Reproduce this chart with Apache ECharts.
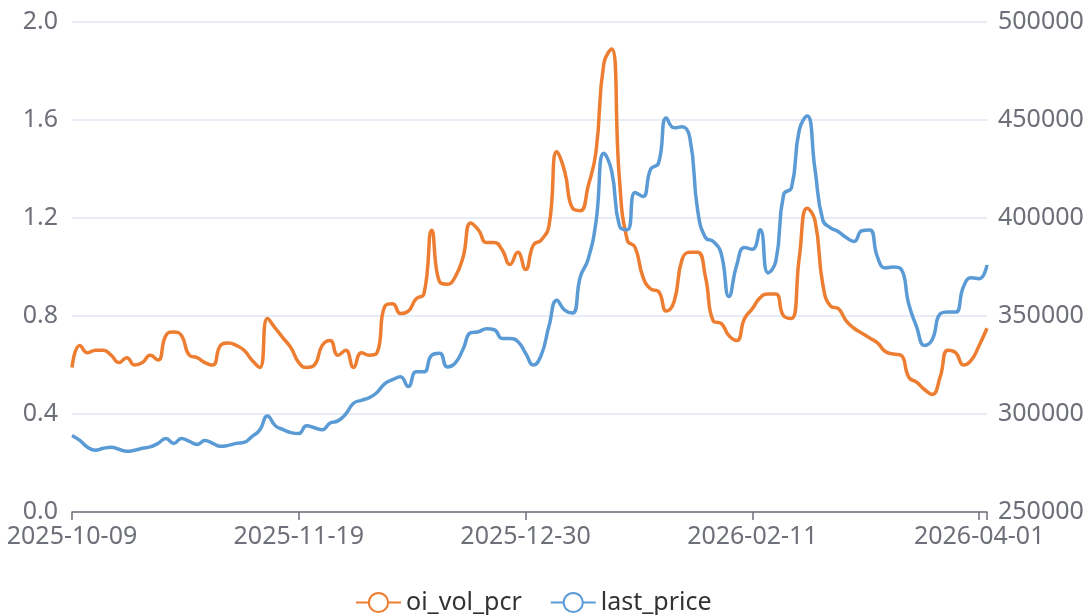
<!DOCTYPE html>
<html>
<head>
<meta charset="utf-8">
<script src="https://cdn.jsdelivr.net/npm/echarts@6/dist/echarts.min.js"></script>
<style>
html,body{margin:0;padding:0;background:#fff;}
#chart{width:1091px;height:615px;}
</style>
</head>
<body>
<div id="chart"></div>
<script>
const categories = [
'2025-10-09','2025-10-10','2025-10-13','2025-10-14','2025-10-15','2025-10-16','2025-10-17','2025-10-20','2025-10-21','2025-10-22',
'2025-10-23','2025-10-24','2025-10-27','2025-10-28','2025-10-29','2025-10-30','2025-10-31','2025-11-03','2025-11-04','2025-11-05',
'2025-11-06','2025-11-07','2025-11-10','2025-11-11','2025-11-12','2025-11-13','2025-11-14','2025-11-17','2025-11-18','2025-11-19',
'2025-11-20','2025-11-21','2025-11-24','2025-11-25','2025-11-26','2025-11-27','2025-11-28','2025-12-01','2025-12-02','2025-12-03',
'2025-12-04','2025-12-05','2025-12-08','2025-12-09','2025-12-10','2025-12-11','2025-12-12','2025-12-15','2025-12-16','2025-12-17',
'2025-12-18','2025-12-19','2025-12-22','2025-12-23','2025-12-24','2025-12-25','2025-12-26','2025-12-29','2025-12-30','2025-12-31',
'2026-01-05','2026-01-06','2026-01-07','2026-01-08','2026-01-09','2026-01-12','2026-01-13','2026-01-14','2026-01-15','2026-01-16',
'2026-01-19','2026-01-20','2026-01-21','2026-01-22','2026-01-23','2026-01-26','2026-01-27','2026-01-28','2026-01-29','2026-01-30',
'2026-02-02','2026-02-03','2026-02-04','2026-02-05','2026-02-06','2026-02-09','2026-02-10','2026-02-11','2026-02-12','2026-02-13',
'2026-02-24','2026-02-25','2026-02-26','2026-02-27','2026-03-02','2026-03-03','2026-03-04','2026-03-05','2026-03-06','2026-03-09',
'2026-03-10','2026-03-11','2026-03-12','2026-03-13','2026-03-16','2026-03-17','2026-03-18','2026-03-19','2026-03-20','2026-03-23',
'2026-03-24','2026-03-25','2026-03-26','2026-03-27','2026-03-30','2026-03-31','2026-04-01','2026-04-02'
];

const oiVolPcr = [
0.59,0.68,0.65,0.66,0.66,0.64,0.61,0.63,0.60,0.61,
0.64,0.62,0.72,0.735,0.72,0.64,0.63,0.61,0.60,0.68,
0.69,0.68,0.66,0.62,0.59,0.79,0.75,0.71,0.67,0.61,
0.59,0.60,0.68,0.70,0.64,0.66,0.59,0.65,0.64,0.65,
0.84,0.85,0.81,0.82,0.87,0.89,1.15,0.94,0.93,0.96,
1.04,1.18,1.15,1.10,1.10,1.07,1.01,1.06,0.99,1.09,
1.11,1.17,1.47,1.39,1.24,1.23,1.33,1.47,1.83,1.89,
1.36,1.11,1.08,0.96,0.91,0.90,0.82,0.86,1.03,1.06,
1.06,0.96,0.78,0.77,0.72,0.70,0.79,0.83,0.875,0.89,
0.89,0.80,0.79,1.04,1.24,1.19,0.93,0.84,0.83,0.78,
0.75,0.73,0.71,0.69,0.655,0.645,0.64,0.55,0.53,0.50,
0.48,0.55,0.66,0.65,0.60,0.62,0.68,0.75
];

const lastPrice = [
289000,286500,283000,281500,282500,283000,282000,281000,281500,282500,
283200,285000,287500,285000,287500,286000,284500,286500,285000,283500,
284000,285000,285500,288500,291800,299000,294000,292000,290500,290000,
294000,293000,292000,295400,296500,300000,305500,307000,308300,311000,
315500,317500,319000,314000,321500,321500,330000,331000,324000,326000,
333000,341500,342000,343500,343000,338500,338500,337000,331000,325000,
330000,345000,358000,353000,351500,370000,379000,398000,433000,424000,
396000,394000,413000,411000,425000,428000,451000,446000,446500,441000,
404000,390000,388000,382000,360000,376000,385000,384000,394000,372000,
378000,412000,415500,445000,452000,425000,399000,395000,393000,390000,
388000,393500,393900,380000,374500,375000,374000,356000,344500,335000,
338000,351000,352000,352000,365000,369500,369000,376000
];

const leftTicks = {min: 0, max: 2.0, interval: 0.4};
const rightTicks = {min: 250000, max: 500000, interval: 50000};

const labelColor = '#6E7079';
const fontFamily = '"Noto Sans", "Open Sans", sans-serif';
const fontSize = 25;

const chart = echarts.init(document.getElementById('chart'), null, {renderer: 'canvas'});
chart.setOption({
  animation: false,
  backgroundColor: '#ffffff',
  color: ['#ED7D31', '#5B9BD5'],
  textStyle: {fontFamily: fontFamily},
  grid: {left: 72, right: 104, top: 22, bottom: 103, containLabel: false, outerBoundsMode: 'none'},
  legend: {
    data: ['oi_vol_pcr', 'last_price'],
    left: 350,
    top: 585,
    itemWidth: 45,
    itemHeight: 24,
    itemGap: 28,
    textStyle: {fontSize: fontSize, color: '#333333', fontFamily: fontFamily}
  },
  xAxis: {
    type: 'category',
    data: categories,
    boundaryGap: false,
    axisLine: {show: true, lineStyle: {color: labelColor, width: 1.5}},
    axisTick: {show: true, length: 8, lineStyle: {color: labelColor, width: 1.5},
      interval: function (idx) { return idx % 29 === 0 || idx === categories.length - 1; }},
    axisLabel: {
      interval: function (idx) { return idx % 29 === 0; },
      color: labelColor, fontSize: fontSize, fontFamily: fontFamily, margin: 12, hideOverlap: false
    },
    splitLine: {show: false}
  },
  yAxis: [
    {
      type: 'value',
      min: leftTicks.min, max: leftTicks.max, interval: leftTicks.interval,
      axisLine: {show: false}, axisTick: {show: false},
      axisLabel: {color: labelColor, fontSize: fontSize, fontFamily: fontFamily, margin: 14,
        formatter: function (v) { return v.toFixed(1); }},
      splitLine: {show: true, lineStyle: {color: '#E0E6F1', width: 1.5}}
    },
    {
      type: 'value',
      min: rightTicks.min, max: rightTicks.max, interval: rightTicks.interval,
      axisLine: {show: false}, axisTick: {show: false},
      axisLabel: {color: labelColor, fontSize: fontSize, fontFamily: fontFamily, margin: 11,
        formatter: function (v) { return String(v); }},
      splitLine: {show: false}
    }
  ],
  series: [
    {
      name: 'oi_vol_pcr', type: 'line', yAxisIndex: 0, data: oiVolPcr,
      smooth: true, showSymbol: false, symbol: 'emptyCircle', symbolSize: 8,
      lineStyle: {width: 3.5}
    },
    {
      name: 'last_price', type: 'line', yAxisIndex: 1, data: lastPrice,
      smooth: true, showSymbol: false, symbol: 'emptyCircle', symbolSize: 8,
      lineStyle: {width: 3.5}
    }
  ]
});
</script>
</body>
</html>
